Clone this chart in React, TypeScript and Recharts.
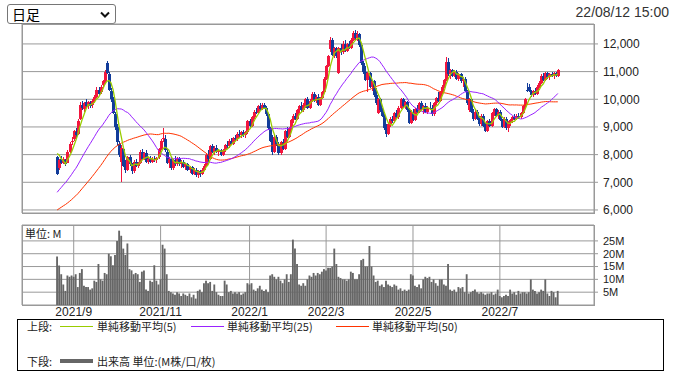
import React from 'react';
import { ComposedChart, Bar, Line, XAxis, YAxis, CartesianGrid } from 'recharts';

// closes before the first visible candle, only used to seed the moving averages
const priorCloses = [
  5250, 5310, 5280, 5350, 5300, 5400, 5330, 5270, 5380, 5420,
  5350, 5300, 5390, 5450, 5400, 5330, 5280, 5360, 5420, 5380,
  5450, 5400, 5350, 5430, 5460,
  5480, 5620, 5560, 5700, 5660, 5850, 5920, 5980, 6150, 6120,
  6330, 6380, 6520, 6580, 6750, 6820, 6880, 7050, 7150, 7250,
  8100, 8350, 8200, 8250,
];

const opens = [
  7900, 7500, 7850, 7700, 7800, 7700, 8100, 8450, 8550, 8800,
  8750, 9300, 9800, 9650, 9900, 9750, 9850, 9800, 9950, 10100,
  10350, 10250, 10500, 10650, 11300, 10900, 10300, 10000, 9450, 9000,
  8400, 7750, 8200, 7600, 7450, 7900, 7650, 7400, 7750, 7600,
  7700, 8100, 7850, 8050, 7750, 7850, 7750, 7850, 7800, 7900,
  8200, 8550, 8550, 8100, 7700, 7850, 7500, 7800, 7650, 7850,
  7650, 7750, 7550, 7650, 7450, 7550, 7300, 7450, 7250, 7400,
  7300, 7450, 7600, 8000, 7850, 8300, 8100, 8250, 8100, 8150,
  8000, 8150, 8350, 8300, 8500, 8400, 8600, 8550, 8750, 8700,
  8800, 8700, 8800, 9200, 9050, 9350, 9550, 9500, 9750, 9650,
  9800, 9700, 9450, 8950, 8550, 8100, 8650, 8350, 8050, 8450,
  8200, 8850, 8650, 8950, 9250, 9400, 9300, 9600, 9750, 9600,
  9800, 10000, 9700, 9950, 10200, 9950, 10100, 9800, 10050, 10250,
  10750, 11200, 11800, 12150, 11600, 11850, 10950, 11850, 11700, 12000,
  11750, 12000, 11850, 12150, 12400, 12200, 12350, 11950, 11300, 11000,
  10700, 10950, 10450, 10650, 10150, 9500, 10000, 9600, 9400, 8950,
  8750, 9100, 9300, 9200, 9500, 9350, 9700, 10000, 9750, 9900,
  9600, 9150, 9550, 9250, 9650, 9550, 9850, 9650, 9750, 9550,
  9700, 9650, 9450, 9850, 10050, 9950, 10250, 10450, 10700, 11350,
  10900, 11050, 10850, 11000, 10750, 10900, 10650, 10750, 10300, 9600,
  10000, 9550, 9300, 9550, 9300, 9100, 9400, 9050, 8850, 9200,
  9050, 9500, 9650, 9400, 9550, 9250, 9000, 9300, 8950, 9150,
  9250, 9350, 9300, 9400, 9350, 9500, 9750, 10350, 10450, 10300,
  10150, 10300, 10200, 10450, 10600, 10850, 10700, 10950, 10800, 10900,
  10850, 10950, 10850,
];

const highs = [
  7950, 7850, 7950, 7900, 7850, 8150, 8450, 8650, 8900, 8950,
  9300, 9900, 9950, 9900, 10000, 9950, 9950, 10000, 10150, 10450,
  10450, 10500, 10700, 11050, 11380, 11000, 10400, 10100, 9550, 9100,
  8500, 8350, 8250, 7800, 7950, 8000, 7700, 7800, 7850, 7750,
  8150, 8200, 8100, 8150, 7900, 7950, 7900, 7950, 7900, 8250,
  8550, 8970, 8700, 8200, 7900, 7900, 7850, 7950, 7900, 7900,
  7800, 7800, 7700, 7700, 7600, 7600, 7500, 7500, 7450, 7450,
  7500, 7650, 8050, 8150, 8350, 8400, 8300, 8350, 8200, 8200,
  8200, 8400, 8500, 8550, 8600, 8650, 8700, 8800, 8900, 8850,
  8900, 8850, 9250, 9300, 9400, 9600, 9700, 9800, 9850, 9870,
  9870, 9750, 9500, 9000, 8700, 8700, 8700, 8450, 8500, 8550,
  8900, 9000, 9000, 9300, 9450, 9500, 9650, 9800, 9900, 9850,
  10050, 10100, 10000, 10250, 10250, 10150, 10200, 10100, 10300, 10800,
  11250, 11600, 12250, 12200, 11900, 11900, 11900, 12000, 12100, 12150,
  12050, 12100, 12200, 12450, 12500, 12450, 12400, 12000, 11400, 11200,
  11000, 11000, 10700, 10700, 10400, 10050, 10050, 9700, 9450, 9100,
  9150, 9350, 9400, 9550, 9600, 9750, 10050, 10050, 9950, 9950,
  9700, 9600, 9650, 9700, 9800, 9900, 9950, 9800, 9850, 9750,
  9900, 9800, 9900, 10100, 10250, 10300, 10500, 10750, 11530, 11500,
  11100, 11100, 11050, 11050, 10950, 10950, 10800, 10800, 10350, 10050,
  10050, 9650, 9600, 9600, 9400, 9450, 9450, 9150, 9250, 9300,
  9550, 9700, 9700, 9600, 9600, 9300, 9350, 9350, 9200, 9300,
  9400, 9450, 9450, 9500, 9550, 9800, 10050, 10600, 10550, 10350,
  10350, 10400, 10500, 10650, 10900, 10950, 11000, 11000, 10950, 11000,
  11000, 11000, 11100,
];

const lows = [
  7250, 7450, 7650, 7650, 7600, 7700, 8050, 8350, 8500, 8600,
  8700, 9250, 9600, 9550, 9700, 9650, 9700, 9700, 9850, 10050,
  10150, 10200, 10400, 10600, 10900, 10300, 9900, 9450, 8900, 8350,
  7900, 7000, 7550, 7350, 7400, 7600, 7300, 7350, 7550, 7500,
  7650, 7800, 7800, 7700, 7650, 7700, 7700, 7750, 7700, 7850,
  8150, 8450, 8100, 7650, 7500, 7450, 7450, 7600, 7600, 7600,
  7500, 7500, 7450, 7400, 7350, 7250, 7250, 7200, 7150, 7200,
  7250, 7400, 7600, 7750, 7800, 8050, 8000, 8050, 7950, 7950,
  7950, 8100, 8250, 8250, 8350, 8350, 8500, 8500, 8650, 8600,
  8650, 8600, 8750, 9000, 9000, 9300, 9450, 9450, 9600, 9600,
  9650, 9400, 8900, 8450, 8000, 8050, 8300, 8000, 8000, 8150,
  8150, 8600, 8600, 8900, 9150, 9250, 9250, 9500, 9550, 9550,
  9700, 9650, 9650, 9900, 9900, 9850, 9750, 9750, 10000, 10250,
  10700, 11150, 11700, 11550, 11500, 11500, 10900, 11600, 11650, 11700,
  11700, 11800, 11800, 12100, 12150, 12100, 11900, 11250, 10900, 10650,
  10250, 10400, 10300, 10100, 9800, 9450, 9550, 9350, 8900, 8650,
  8700, 9000, 9150, 9150, 9300, 9300, 9650, 9700, 9650, 9550,
  9100, 9100, 9200, 9200, 9500, 9500, 9600, 9450, 9500, 9450,
  9600, 9400, 9400, 9800, 9900, 9900, 10200, 10400, 10650, 10850,
  10750, 10800, 10800, 10700, 10650, 10600, 10450, 10250, 9800, 9550,
  9500, 9200, 9250, 9250, 9050, 9050, 9000, 8800, 8800, 9000,
  9000, 9400, 9350, 9300, 9200, 8950, 8950, 8900, 8800, 9050,
  9150, 9250, 9250, 9300, 9300, 9450, 9700, 10250, 10250, 10100,
  10100, 10150, 10150, 10400, 10550, 10650, 10650, 10750, 10700, 10800,
  10750, 10800, 10800,
];

const closes = [
  7300, 7800, 7700, 7850, 7650, 8100, 8400, 8500, 8850, 8700,
  9200, 9800, 9700, 9850, 9750, 9900, 9750, 9950, 10100, 10350,
  10200, 10450, 10650, 11000, 10950, 10350, 10000, 9500, 9000, 8450,
  8000, 8250, 7600, 7450, 7900, 7650, 7400, 7750, 7600, 7700,
  8100, 7850, 8050, 7750, 7850, 7750, 7850, 7800, 7880, 8200,
  8500, 8600, 8150, 7700, 7850, 7500, 7800, 7650, 7850, 7650,
  7750, 7550, 7650, 7450, 7550, 7300, 7450, 7250, 7400, 7300,
  7450, 7600, 8000, 7850, 8300, 8100, 8250, 8100, 8150, 8000,
  8150, 8350, 8300, 8500, 8400, 8600, 8550, 8750, 8700, 8800,
  8700, 8800, 9200, 9050, 9350, 9550, 9500, 9750, 9650, 9800,
  9700, 9450, 8950, 8500, 8100, 8650, 8350, 8050, 8450, 8200,
  8850, 8650, 8950, 9250, 9400, 9300, 9600, 9750, 9600, 9800,
  10000, 9700, 9950, 10200, 9950, 10100, 9800, 10050, 10250, 10750,
  11200, 11550, 12150, 11600, 11850, 11550, 11850, 11700, 12000, 11750,
  12000, 11850, 12150, 12400, 12200, 12350, 11950, 11300, 11000, 10700,
  10950, 10450, 10650, 10150, 9850, 10000, 9600, 9400, 8950, 8750,
  9100, 9300, 9200, 9500, 9350, 9700, 10000, 9750, 9900, 9600,
  9150, 9550, 9250, 9650, 9550, 9850, 9650, 9750, 9550, 9700,
  9650, 9450, 9850, 10050, 9950, 10250, 10450, 10700, 11350, 10900,
  11050, 10850, 11000, 10750, 10900, 10650, 10750, 10300, 9850, 10000,
  9550, 9300, 9550, 9300, 9100, 9400, 9050, 8850, 9200, 9050,
  9500, 9650, 9400, 9550, 9250, 9000, 9300, 8950, 9150, 9250,
  9350, 9300, 9400, 9350, 9500, 9750, 10000, 10300, 10300, 10150,
  10300, 10200, 10450, 10600, 10850, 10700, 10950, 10800, 10900, 10850,
  10950, 10850, 11050,
];

// volume in millions
const volumes = [
  18.9, 15.4, 12, 8, 5.5, 11.5, 11, 11.5, 11, 12,
  7, 12.5, 14, 7.5, 7, 7, 6, 6.5, 9.5, 9,
  16, 10, 9.5, 12.5, 12, 20, 19, 15.5, 19.5, 25,
  29, 27, 22, 19.5, 24, 14, 13.5, 12, 12.5, 12,
  9, 13, 13.5, 6, 5.5, 9.5, 9, 15.5, 9.5, 8,
  10, 23.5, 22, 12, 5.5, 5, 4.5, 4, 5, 4.5,
  3.5, 4.5, 4, 3.5, 4.5, 3, 4, 2.5, 5.5, 6,
  5, 8.5, 9.5, 8.5, 9, 5.5, 8, 5, 4, 3.5,
  3.5, 9.5, 8, 5, 5.5, 4.5, 5, 4.5, 5, 4,
  4.5, 5, 8.5, 8, 8.5, 6, 5.5, 6.5, 7.5, 6,
  5.5, 6, 5, 11.5, 12, 11, 10, 11, 9.5, 8.5,
  10, 12, 9, 12, 25.5, 22, 16, 8, 7.5, 8.5,
  7.5, 10, 11.5, 11, 12.5, 11.5, 12.5, 12, 13, 14,
  13.5, 14.5, 14.5, 15, 22, 16, 11, 10.5, 10, 10,
  9.5, 10, 13, 12.5, 10, 10, 12, 17.5, 18, 15,
  15, 23, 15, 11.5, 9, 9.5, 7.5, 8, 7, 9.5,
  8, 7.5, 7, 8, 7.5, 6, 6.5, 5.5, 6, 5.5,
  6, 12, 11.5, 7.5, 7, 8, 6.5, 10, 11, 10.5,
  11, 9, 10, 8.5, 7.5, 10, 10, 8, 7.5, 16,
  6, 5.5, 6, 5, 7, 6.5, 7, 5, 12, 4.5,
  5, 5.5, 6, 5, 4.5, 5, 4.5, 4, 4.5, 4.5,
  5, 4, 4.5, 6, 3.5, 3, 3.5, 4, 3.5, 6,
  4.5, 5, 4, 5.5, 4.5, 5, 5, 4.5, 5, 10,
  6, 5.5, 4.5, 5, 6, 5.5, 10, 4.5, 3.5, 5.5,
  5, 3, 5.5,
];

// trading-day index of the first session of each labelled month
const monthTicks = [8, 50, 93, 130, 172, 214];
const monthLabels = ['2021/9', '2021/11', '2022/1', '2022/3', '2022/5', '2022/7'];
const priceTicks = [6000, 7000, 8000, 9000, 10000, 11000, 12000];
const volumeTicks = [5, 10, 15, 20, 25];

const UP = '#f2163e';
const DOWN = '#123c9a';
const MA5_COLOR = '#99cc00';
const MA25_COLOR = '#9922ff';
const MA50_COLOR = '#ff3300';
const GRID = '#999999';

const allCloses = [...priorCloses, ...closes];
const sma = (n: number, i: number) => {
  const end = priorCloses.length + i;
  let s = 0;
  for (let k = end - n + 1; k <= end; k++) s += allCloses[k];
  return s / n;
};

const data = closes.map((c, i) => ({
  idx: i,
  open: opens[i],
  high: highs[i],
  low: lows[i],
  close: c,
  range: [lows[i], highs[i]],
  vol: volumes[i],
  ma5: sma(5, i),
  ma25: sma(25, i),
  ma50: sma(50, i),
}));

const X_DOMAIN = [-17, 259.5];

const Candle = (props: any) => {
  const { x, y, width, height, payload } = props;
  if (!payload || x == null) return null;
  const { open, close, high, low } = payload;
  const color = close >= open ? UP : DOWN;
  const top = Math.min(y, y + height);
  const h = Math.abs(height);
  const span = high - low || 1;
  const toY = (v: number) => top + ((high - v) / span) * h;
  const bTop = toY(Math.max(open, close));
  const bBot = toY(Math.min(open, close));
  const cx = Math.round(x + width / 2);
  return (
    <g shapeRendering="crispEdges">
      <rect x={cx} y={top} width={1} height={Math.max(1, h)} fill={color} />
      <rect x={cx - 1} y={bTop} width={3} height={Math.max(1, bBot - bTop)} fill={color} />
    </g>
  );
};

const legendText: React.CSSProperties = {
  position: 'absolute',
  fontSize: 11,
  lineHeight: '14px',
  color: '#222',
  fontFamily: '"Noto Sans CJK JP", sans-serif',
  whiteSpace: 'nowrap',
};

const LegendLine = ({ left, top, color, thick }: { left: number; top: number; color: string; thick?: number }) => (
  <div style={{ position: 'absolute', left, top: top - (thick || 1) / 2, width: 33, height: thick || 1, background: color }} />
);

export default function App() {
  return (
    <div
      style={{
        position: 'absolute',
        left: 0,
        top: 0,
        width: 673,
        height: 374,
        background: '#fff',
        fontFamily: '"Liberation Sans", Arial, sans-serif',
        overflow: 'hidden',
      }}
    >
      {/* period selector */}
      <div
        style={{
          position: 'absolute',
          left: 7,
          top: 4,
          width: 109,
          height: 20,
          border: '1px solid #767676',
          borderRadius: 3,
          boxSizing: 'border-box',
          fontSize: 14,
          lineHeight: '18px',
          paddingLeft: 4,
          fontFamily: '"Noto Sans CJK JP", sans-serif',
          color: '#000',
        }}
      >
        日足
        <svg style={{ position: 'absolute', right: 5, top: 6 }} width={10} height={7}>
          <polyline points="1,1.5 5,5.5 9,1.5" fill="none" stroke="#111" strokeWidth={2} />
        </svg>
      </div>
      <div style={{ position: 'absolute', right: 4, top: 4, fontSize: 14, color: '#333' }}>22/08/12 15:00</div>

      {/* price panel */}
      <div style={{ position: 'absolute', left: 0, top: 0 }}>
        <ComposedChart width={673} height={220} data={data} margin={{ top: 24, right: 0, bottom: 7, left: 22 }}>
          <CartesianGrid stroke={GRID} />
          <XAxis
            dataKey="idx"
            type="number"
            domain={X_DOMAIN}
            allowDataOverflow
            ticks={monthTicks}
            height={0}
            tick={false}
            tickLine={false}
            axisLine={false}
          />
          <YAxis
            orientation="right"
            width={79}
            domain={[5890, 12720]}
            allowDataOverflow
            ticks={priceTicks}
            interval={0}
            tickFormatter={(v: number) => v.toLocaleString('en-US')}
            tick={{ fill: '#222', fontSize: 12 }}
            tickSize={4}
            tickMargin={5}
            axisLine={false}
            tickLine={{ stroke: GRID }}
          />
          <Bar dataKey="range" barSize={2} shape={<Candle />} isAnimationActive={false} />
          <Line dataKey="ma50" stroke={MA50_COLOR} strokeWidth={1} dot={false} type="linear" isAnimationActive={false} />
          <Line dataKey="ma25" stroke={MA25_COLOR} strokeWidth={1} dot={false} type="linear" isAnimationActive={false} />
          <Line dataKey="ma5" stroke={MA5_COLOR} strokeWidth={1.3} dot={false} type="linear" isAnimationActive={false} />
        </ComposedChart>
      </div>
      <div style={{ position: 'absolute', left: 22, top: 24, width: 573, height: 190, border: `1px solid ${GRID}`, boxSizing: 'border-box', pointerEvents: 'none' }} />

      {/* volume panel */}
      <div style={{ position: 'absolute', left: 0, top: 200 }}>
        <ComposedChart width={673} height={120} data={data} margin={{ top: 25, right: 0, bottom: 0, left: 22 }}>
          <CartesianGrid stroke={GRID} />
          <XAxis
            dataKey="idx"
            type="number"
            domain={X_DOMAIN}
            allowDataOverflow
            ticks={monthTicks}
            tickFormatter={(v: number) => monthLabels[monthTicks.indexOf(v)] || ''}
            height={15}
            tick={{ fill: '#222', fontSize: 12 }}
            tickSize={0}
            tickMargin={2}
            tickLine={false}
            axisLine={false}
            interval={0}
          />
          <YAxis
            orientation="right"
            width={79}
            domain={[0, 31.2]}
            allowDataOverflow
            ticks={volumeTicks}
            interval={0}
            tickFormatter={(v: number) => `${v}M`}
            tick={{ fill: '#222', fontSize: 11 }}
            tickSize={4}
            tickMargin={5}
            axisLine={false}
            tickLine={{ stroke: GRID }}
          />
          <Bar dataKey="vol" barSize={2.5} fill="#666666" isAnimationActive={false} />
        </ComposedChart>
      </div>
      <div style={{ position: 'absolute', left: 22, top: 225, width: 573, height: 81, border: `1px solid ${GRID}`, boxSizing: 'border-box', pointerEvents: 'none' }} />
      <div style={{ ...legendText, left: 25, top: 226, color: '#222' }}>単位: M</div>

      {/* legend */}
      <div style={{ position: 'absolute', left: 17, top: 319, width: 647, height: 52, border: '1px solid #000', boxSizing: 'border-box' }} />
      <div style={{ ...legendText, left: 27, top: 319 }}>上段:</div>
      <LegendLine left={60} top={326} color={MA5_COLOR} />
      <div style={{ ...legendText, left: 97, top: 319 }}>単純移動平均(5)</div>
      <LegendLine left={191} top={326} color={MA25_COLOR} />
      <div style={{ ...legendText, left: 227, top: 319 }}>単純移動平均(25)</div>
      <LegendLine left={336} top={326} color={MA50_COLOR} />
      <div style={{ ...legendText, left: 372, top: 319 }}>単純移動平均(50)</div>
      <div style={{ ...legendText, left: 27, top: 354 }}>下段:</div>
      <LegendLine left={60} top={361} color="#666666" thick={4} />
      <div style={{ ...legendText, left: 97, top: 354 }}>出来高 単位:(M株/口/枚)</div>
    </div>
  );
}
